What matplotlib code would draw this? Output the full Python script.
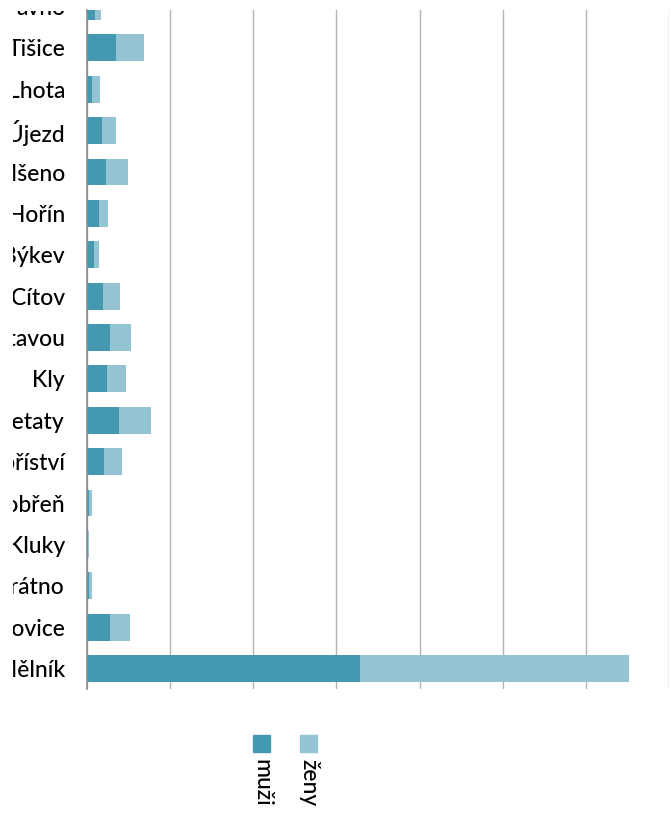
import matplotlib
matplotlib.use("Agg")
import matplotlib.pyplot as plt
from matplotlib.patches import Rectangle
from matplotlib.transforms import Bbox, TransformedBbox, ScaledTranslation

categories = ["avno", "Tišice", "Lhota", "Malý Újezd", "Mšeno", "Hořín", "Býkev", "Cítov",
              "Lužec nad Vltavou", "Kly", "Všetaty", "Obříství", "Dobřeň", "Kluky",
              "Vrátno", "Dolní Beřkovice", "Mělník"]
muzi = [280, 1030, 190, 525, 670, 415, 235, 595, 815, 705, 1140, 630, 80, 45, 80, 815, 9850]
zeny = [240, 1010, 265, 505, 795, 360, 215, 605, 760, 685, 1155, 650, 85, 45, 85, 720, 9720]
legend_labels = ["muži", "ženy"]
x_max = 21000
x_step = 3000

c_m = "#4499B0"
c_z = "#94C3D4"

plt.rcParams['font.family'] = ['Lato', 'DejaVu Sans']

W, H = 671, 815
fig = plt.figure(figsize=(W / 100, H / 100), dpi=100)
left, right, top, bottom = 87, 669, 10, 689.2
ax = fig.add_axes([left / W, (H - bottom) / H, (right - left) / W, (bottom - top) / H])

y = list(range(len(categories)))
ax.barh(y, muzi, height=0.65, color=c_m, zorder=3)
ax.barh(y, zeny, left=muzi, height=0.65, color=c_z, zorder=3)

row_px = 41.375
ax.set_ylim(len(categories) - 0.5, len(categories) - 0.5 - (bottom - top) / row_px)
ax.set_xlim(0, x_max)
ax.set_xticks(range(0, x_max + 1, x_step))
ax.set_xticklabels([])
ax.set_yticks([])
ax.grid(axis='x', color='#B3B3B3', linewidth=1.0, zorder=0)
ax.tick_params(axis='x', length=0)
for s in ['top', 'right', 'bottom']:
    ax.spines[s].set_visible(False)
ax.spines['left'].set_color('#8C8C8C')
ax.spines['left'].set_linewidth(1.2)
ax.spines['left'].set_zorder(4)

# category labels, clipped to the visible area of the original picture
clip = TransformedBbox(Bbox.from_extents(13 / W, 0, 1, (H - 11) / H), fig.transFigure)
lab_tr = ax.get_yaxis_transform() + ScaledTranslation(-22 / 100, 0, fig.dpi_scale_trans)
for yi, name in zip(y, categories):
    t = ax.text(0, yi, name, transform=lab_tr, ha='right', va='center_baseline',
                fontsize=16.5, color='#000000', fontweight='medium', clip_on=True)
    t.set_clip_box(clip)

# legend (vertical text)
for (x0, lab, col) in [(253, legend_labels[0], c_m), (300, legend_labels[1], c_z)]:
    fig.patches.append(Rectangle((x0 / W, (H - 752) / H), 17 / W, 17 / H,
                                 transform=fig.transFigure, color=col))
    fig.text((x0 + 8.5) / W, (H - 759) / H, lab, rotation=-90, ha='center', va='top',
             fontsize=16.5, color='#000000', fontweight='medium')

fig.savefig("out.png", dpi=100)
